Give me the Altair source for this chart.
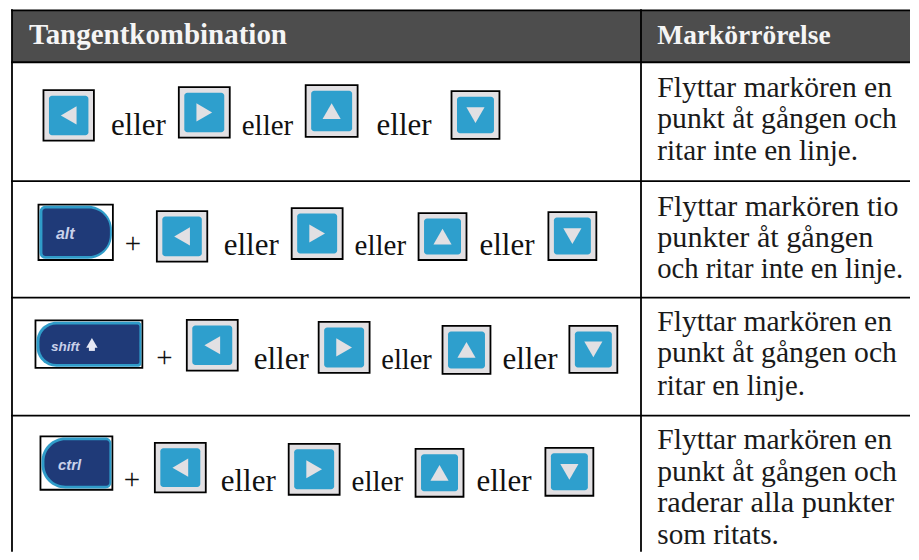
import altair as alt
import pandas as pd

# ---- table content -------------------------------------------------------
HEADERS = ["Tangentkombination", "Markörrörelse"]
HEADER_X = [29, 658]
HEADER_BASE = [44, 44]
HEADER_SIZE = [29, 27.5]
DESC_LINES = [
    "Flyttar markören en", "punkt åt gången och", "ritar inte en linje.",
    "Flyttar markören tio", "punkter åt gången", "och ritar inte en linje.",
    "Flyttar markören en", "punkt åt gången och", "ritar en linje.",
    "Flyttar markören en", "punkt åt gången och", "raderar alla punkter", "som ritats.",
]
DESC_BASE = [96.5, 128, 160, 215.5, 247, 278, 331.5, 362, 395, 449, 481, 512.5, 544]
DESC_SIZE = [29.6, 29.7, 29.2, 30, 30.2, 28.7, 29.6, 29.7, 28.8, 29.6, 29.7, 30.3, 29.2]

ROW_LINES = [62, 181, 297.7, 415.7]
TOP_LINE = [10]
COL_LINES = [12, 641.7]
X_MIN, X_MAX, Y_MIN, Y_MAX = 8, 911, 8, 552

# arrow keys, one row of the table after the other
KEY_DIR = ["left", "right", "up", "down"] * 4
KEY_X0 = [43.5, 179, 306, 452, 157, 292, 419, 549, 187, 319, 443, 570, 155, 289, 416, 546]
KEY_X1 = [94, 230, 358, 500, 207.5, 343, 467, 597, 238, 370, 491, 618, 206, 340, 464, 594]
KEY_Y0 = [90, 87, 85, 91, 211, 208, 213, 212, 320, 322, 326, 326, 443, 444, 449, 448]
KEY_Y1 = [140.5, 137.5, 136.7, 138.7, 261.7, 259, 260, 260, 370.7, 373, 374, 373, 492.7, 495, 497, 496]

ELLER_X = [111, 242, 377, 224, 355, 480, 254, 381.7, 503, 221, 352, 477]
ELLER_BASE = [134.5, 134.5, 134.5, 255, 255, 255, 369, 369, 369, 491.7, 491.7, 491.7]
ELLER_SIZE = [31, 29, 31, 31, 29, 31, 31, 28.5, 31, 31, 29, 31]
PLUS_X = [133, 164.5, 132]
PLUS_BASE = [253, 367, 489]

# modifier keys
MOD_LABEL = ["alt", "shift", "ctrl"]
MOD_X0 = [38.5, 35.5, 40.5]
MOD_X1 = [113, 142.5, 112.5]
MOD_Y0 = [204.5, 320.5, 436.5]
MOD_Y1 = [260, 368, 490]
MOD_TEXT_X = [56, 51, 58]
MOD_TEXT_BASE = [239, 351, 470]
MOD_TEXT_SIZE = [16, 13.5, 15]
MOD_RADII = [(6, 24, 6, 24), (20, 3, 20, 3), (24, 6, 24, 6)]  # tl, tr, bl, br

BLACK = "#000000"
HEADER_FILL = "#4d4d4d"
KEY_GREY = "#e2e0e3"
KEY_BLUE = "#2e9fcd"
MOD_CYAN = "#2f9cc9"
MOD_NAVY = "#1f3a78"
MOD_TEXT = "#c9d1ea"

x_scale = alt.Scale(domain=[X_MIN, X_MAX], nice=False, zero=False)
y_scale = alt.Scale(domain=[Y_MAX, Y_MIN], nice=False, zero=False)
X = lambda f: alt.X(f, type="quantitative", scale=x_scale, axis=None)
Y = lambda f: alt.Y(f, type="quantitative", scale=y_scale, axis=None)
X2 = lambda f: alt.X2(f)
Y2 = lambda f: alt.Y2(f)

layers = []

# header band
header = pd.DataFrame({"x0": [COL_LINES[0]], "x1": [X_MAX], "y0": TOP_LINE, "y1": [ROW_LINES[0]]})
layers.append(alt.Chart(header).mark_rect(color=HEADER_FILL).encode(x=X("x0"), x2=X2("x1"), y=Y("y0"), y2=Y2("y1")))

# rules
hl = pd.DataFrame({"y": TOP_LINE + ROW_LINES, "x0": COL_LINES[0] - 1, "x1": X_MAX})
layers.append(alt.Chart(hl).mark_rule(color=BLACK, strokeWidth=1.8).encode(x=X("x0"), x2=X2("x1"), y=Y("y")))
vl = pd.DataFrame({"x": COL_LINES, "y0": TOP_LINE[0] - 1, "y1": Y_MAX})
layers.append(alt.Chart(vl).mark_rule(color=BLACK, strokeWidth=1.8).encode(x=X("x"), y=Y("y0"), y2=Y2("y1")))

# header text
ht = pd.DataFrame({"t": HEADERS, "x": HEADER_X, "y": HEADER_BASE, "s": HEADER_SIZE})
layers.append(alt.Chart(ht).mark_text(font="Liberation Serif", fontWeight="bold", color="#f5f5f5",
                                      align="left", baseline="alphabetic").encode(
    x=X("x"), y=Y("y"), text="t:N", size=alt.Size("s:Q", scale=None, legend=None)))

# description text
dt = pd.DataFrame({"t": DESC_LINES, "y": DESC_BASE, "x": HEADER_X[1], "s": DESC_SIZE})
layers.append(alt.Chart(dt).mark_text(font="Liberation Serif", color="#1a1a1a",
                                      align="left", baseline="alphabetic").encode(
    x=X("x"), y=Y("y"), text="t:N", size=alt.Size("s:Q", scale=None, legend=None)))

# arrow keys
k = pd.DataFrame({"d": KEY_DIR, "x0": KEY_X0, "x1": KEY_X1, "y0": KEY_Y0, "y1": KEY_Y1})
k["ix0"] = k.x0 + 5.5
k["ix1"] = k.x1 - 5.5
k["iy0"] = k.y0 + 5.5
k["iy1"] = k.y1 - 5.5
k["cx"] = (k.x0 + k.x1) / 2
k["cy"] = (k.y0 + k.y1) / 2
k["shape"] = "triangle-" + k.d
layers.append(alt.Chart(k).mark_rect(fill=KEY_GREY, stroke=BLACK, strokeWidth=1.8).encode(
    x=X("x0"), x2=X2("x1"), y=Y("y0"), y2=Y2("y1")))
layers.append(alt.Chart(k).mark_rect(fill=KEY_BLUE, cornerRadius=3).encode(
    x=X("ix0"), x2=X2("ix1"), y=Y("iy0"), y2=Y2("iy1")))
layers.append(alt.Chart(k).mark_point(filled=True, color=KEY_GREY, opacity=1, size=330).encode(
    x=X("cx"), y=Y("cy"), shape=alt.Shape("shape:N", scale=None)))

# eller / +
e = pd.DataFrame({"x": ELLER_X, "y": ELLER_BASE, "s": ELLER_SIZE, "t": "eller"})
layers.append(alt.Chart(e).mark_text(font="Liberation Serif", color="#111111", align="left", baseline="alphabetic").encode(
    x=X("x"), y=Y("y"), text="t:N", size=alt.Size("s:Q", scale=None, legend=None)))
p = pd.DataFrame({"x": PLUS_X, "y": PLUS_BASE, "t": "+"})
layers.append(alt.Chart(p).mark_text(font="Liberation Serif", fontSize=29, color="#111111", align="center", baseline="alphabetic").encode(
    x=X("x"), y=Y("y"), text="t:N"))

# modifier keys
for i, label in enumerate(MOD_LABEL):
    tl, tr, bl, br = MOD_RADII[i]
    m = pd.DataFrame({"x0": [MOD_X0[i]], "x1": [MOD_X1[i]], "y0": [MOD_Y0[i]], "y1": [MOD_Y1[i]]})
    m["ax0"], m["ax1"], m["ay0"], m["ay1"] = m.x0 + 1, m.x1 - 1, m.y0 + 1.2, m.y1 - 1.2
    m["bx0"], m["bx1"], m["by0"], m["by1"] = m.x0 + 4, m.x1 - 3, m.y0 + 4, m.y1 - 4
    layers.append(alt.Chart(m).mark_rect(fill="#ffffff", stroke=BLACK, strokeWidth=1.8).encode(
        x=X("x0"), x2=X2("x1"), y=Y("y0"), y2=Y2("y1")))
    layers.append(alt.Chart(m).mark_rect(fill=MOD_CYAN, cornerRadiusTopLeft=tl, cornerRadiusTopRight=tr,
                                         cornerRadiusBottomLeft=bl, cornerRadiusBottomRight=br).encode(
        x=X("ax0"), x2=X2("ax1"), y=Y("ay0"), y2=Y2("ay1")))
    layers.append(alt.Chart(m).mark_rect(fill=MOD_NAVY, cornerRadiusTopLeft=max(tl - 3, 2), cornerRadiusTopRight=max(tr - 3, 2),
                                         cornerRadiusBottomLeft=max(bl - 3, 2), cornerRadiusBottomRight=max(br - 3, 2)).encode(
        x=X("bx0"), x2=X2("bx1"), y=Y("by0"), y2=Y2("by1")))

mt = pd.DataFrame({"t": MOD_LABEL, "x": MOD_TEXT_X, "y": MOD_TEXT_BASE, "s": MOD_TEXT_SIZE})
layers.append(alt.Chart(mt).mark_text(font="Liberation Sans", fontStyle="italic", fontWeight="bold", color=MOD_TEXT,
                                      align="left", baseline="alphabetic").encode(
    x=X("x"), y=Y("y"), text="t:N", size=alt.Size("s:Q", scale=None, legend=None)))

# the small arrow on the shift key
ARROW_X = [92]
ARROW_Y = [343]
a = pd.DataFrame({"x": ARROW_X, "y": ARROW_Y})
layers.append(alt.Chart(a).mark_point(filled=True, color="#e6e9f5", opacity=1, shape="triangle-up", size=130).encode(x=X("x"), y=Y("y")))
layers.append(alt.Chart(a.assign(y=a.y + 5)).mark_point(filled=True, color="#e6e9f5", opacity=1, shape="square", size=36).encode(x=X("x"), y=Y("y")))

chart = (
    alt.layer(*layers)
    .properties(width=X_MAX - X_MIN, height=Y_MAX - Y_MIN, padding=0, background="#ffffff")
    .configure_view(stroke=None)
)
chart.save("out.html", embed_options={"renderer": "svg", "actions": False})
